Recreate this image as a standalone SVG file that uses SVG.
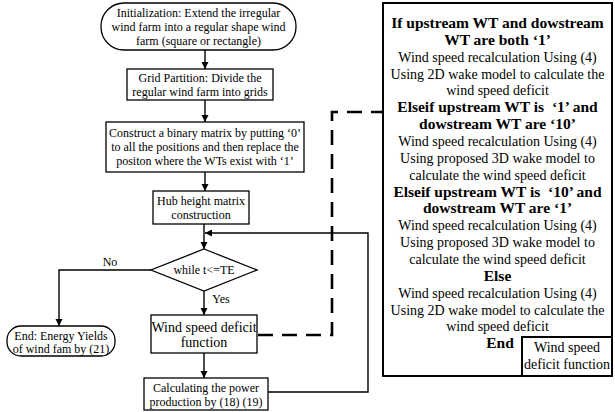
<svg xmlns="http://www.w3.org/2000/svg" width="615" height="412" viewBox="0 0 615 412">
<defs>
<style>
text{font-family:"Liberation Serif","Times New Roman",serif;fill:#000;text-anchor:middle}
.t12{font-size:12px}
.t14{font-size:14px}
.b{font-size:15.5px;font-weight:bold}
.r{font-size:14px}
.box{fill:#fff;stroke:#000;stroke-width:1.3}
.bold{fill:#fff;stroke:#000;stroke-width:2}
.ln{fill:none;stroke:#000;stroke-width:1.4}
.dash{fill:none;stroke:#000;stroke-width:2.6;stroke-dasharray:15 9}
</style>
<marker id="ah" viewBox="0 0 10 10" refX="10" refY="5" markerWidth="7" markerHeight="8" markerUnits="userSpaceOnUse" orient="auto">
<path d="M0,0 L10,5 L0,10 z" fill="#000"/>
</marker>
</defs>

<g id="connectors">
<line class="ln" x1="205" y1="50" x2="205" y2="69" marker-end="url(#ah)"/>
<line class="ln" x1="205" y1="100" x2="205" y2="122" marker-end="url(#ah)"/>
<line class="ln" x1="205" y1="172" x2="205" y2="191" marker-end="url(#ah)"/>
<line class="ln" x1="204" y1="224" x2="204" y2="249" marker-end="url(#ah)"/>
<polyline class="ln" points="151,270 59,270 59,326" marker-end="url(#ah)"/>
<line class="ln" x1="204" y1="291" x2="204" y2="315" marker-end="url(#ah)"/>
<line class="ln" x1="204" y1="353" x2="204" y2="378" marker-end="url(#ah)"/>
<polyline class="ln" points="268,392 368,392 368,233 205,233" marker-end="url(#ah)"/>
<polyline class="dash" points="258,335 332,335 332,112 382,112"/>
<text class="t12" x="110" y="266">No</text>
<text class="t12" x="221" y="303">Yes</text>
</g>

<g id="init">
<rect class="box" x="101" y="3" width="195" height="47" rx="23" ry="23"/>
<text class="t12" x="198.5" y="17">Initialization: Extend the irregular</text>
<text class="t12" x="198.5" y="31">wind farm into a regular shape wind</text>
<text class="t12" x="198.5" y="45">farm (square or rectangle)</text>
</g>

<g id="grid">
<rect class="box" x="127" y="69" width="146" height="31"/>
<text class="t12" x="200" y="82">Grid Partition: Divide the</text>
<text class="t12" x="200" y="96">regular wind farm into grids</text>
</g>

<g id="binary">
<rect class="box" x="106" y="122" width="198" height="50"/>
<text class="t12" x="205" y="137">Construct a binary matrix by putting ‘0’</text>
<text class="t12" x="205" y="151">to all the positions and then replace the</text>
<text class="t12" x="205" y="165">positon where the WTs exist with ‘1’</text>
</g>

<g id="hub">
<rect class="box" x="153" y="191" width="96" height="33"/>
<text class="t12" x="201" y="205">Hub height matrix</text>
<text class="t12" x="201" y="219">construction</text>
</g>

<g id="decision">
<polygon class="box" points="204,249 257,270 204,291 151,270"/>
<text class="t12" x="204" y="274">while t&lt;=TE</text>
</g>

<g id="end">
<rect class="box" x="7" y="326" width="108" height="30" rx="14" ry="14"/>
<text class="t12" x="61" y="340">End: Energy Yields</text>
<text class="t12" x="61" y="353">of wind fam by (21)</text>
</g>

<g id="wsd">
<rect class="box" x="151" y="315" width="106" height="38"/>
<text class="t14" x="204" y="332">Wind speed deficit</text>
<text class="t14" x="204" y="347">function</text>
</g>

<g id="power">
<rect class="box" x="144" y="378" width="124" height="32"/>
<text class="t12" x="206" y="392">Calculating the power</text>
<text class="t12" x="206" y="406">production by (18) (19)</text>
</g>

<g id="detail">
<rect class="bold" x="383" y="3" width="229" height="373"/>
<text class="b" x="497.5" y="28">If upstream WT and dowstream</text>
<text class="b" x="497.5" y="44.9">WT are both ‘1’</text>
<text class="r" x="497.5" y="61.7">Wind speed recalculation Using (4)</text>
<text class="r" x="497.5" y="78.6">Using 2D wake model to calculate the</text>
<text class="r" x="497.5" y="95.4">wind speed deficit</text>
<text class="b" x="497.5" y="112.3">Elseif upstream WT is &#160;‘1’ and</text>
<text class="b" x="497.5" y="129.1">dowstream WT are ‘10’</text>
<text class="r" x="497.5" y="146">Wind speed recalculation Using (4)</text>
<text class="r" x="497.5" y="162.8">Using proposed 3D wake model to</text>
<text class="r" x="497.5" y="179.7">calculate the wind speed deficit</text>
<text class="b" x="497.5" y="196.5">Elseif upstream WT is &#160;‘10’ and</text>
<text class="b" x="497.5" y="213.4">dowstream WT are ‘1’</text>
<text class="r" x="497.5" y="230.2">Wind speed recalculation Using (4)</text>
<text class="r" x="497.5" y="247">Using proposed 3D wake model to</text>
<text class="r" x="497.5" y="263.9">calculate the wind speed deficit</text>
<text class="b" x="497.5" y="280.8">Else</text>
<text class="r" x="497.5" y="297.6">Wind speed recalculation Using (4)</text>
<text class="r" x="497.5" y="314.5">Using 2D wake model to calculate the</text>
<text class="r" x="497.5" y="331.3">wind speed deficit</text>
<text class="b" x="500" y="348.2">End</text>
</g>

<g id="label">
<rect class="bold" x="522" y="337" width="90" height="39"/>
<text class="r" x="567" y="352">Wind speed</text>
<text class="r" x="567" y="369">deficit function</text>
</g>
</svg>
